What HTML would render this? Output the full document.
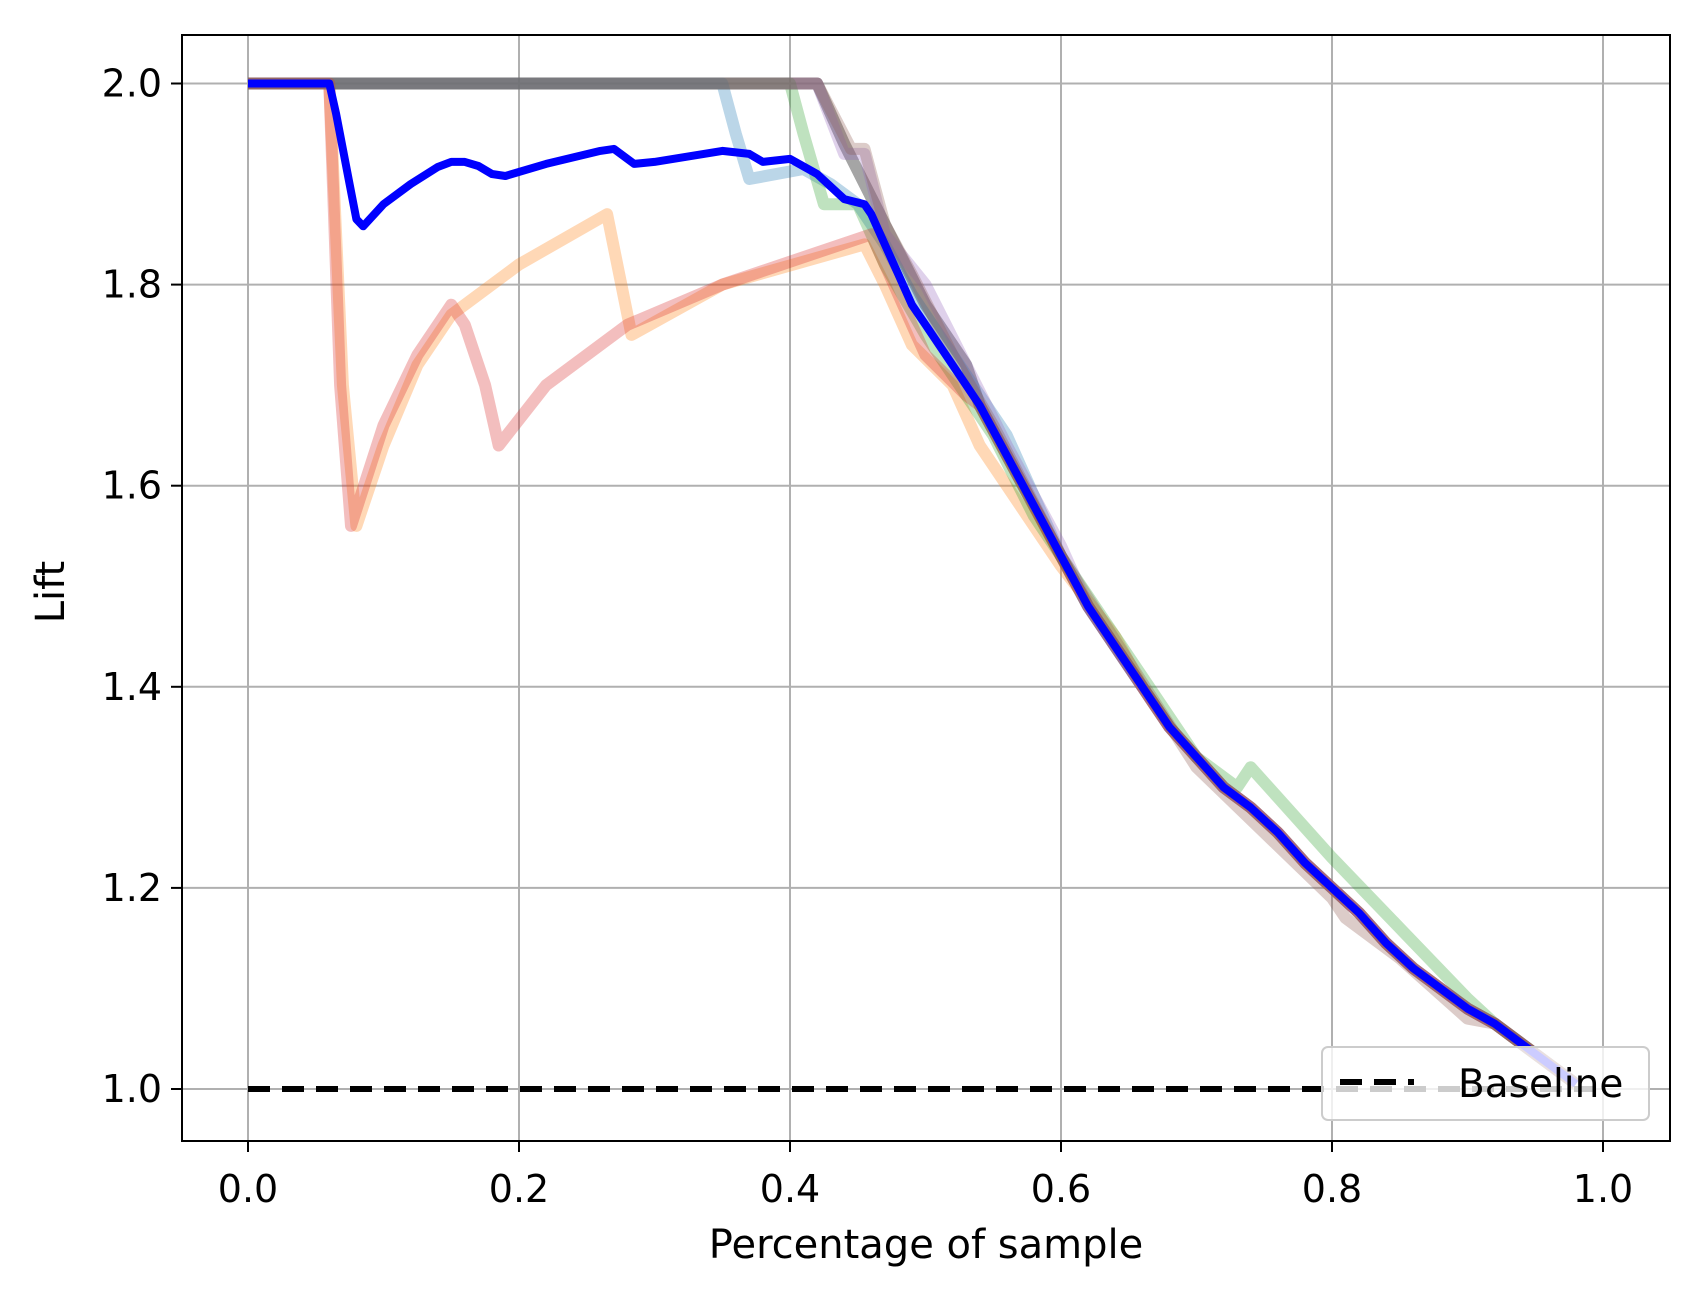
<!DOCTYPE html>
<html><head><meta charset="utf-8"><style>
html,body{margin:0;padding:0;background:#fff}
svg{display:block;font-family:"DejaVu Sans","Liberation Sans",sans-serif}
</style></head><body>
<svg id="chart" width="1703" height="1298" viewBox="0 0 1703 1298"></svg>
<script>
const xTicks=[0,0.2,0.4,0.6,0.8,1.0];
const yTicks=[1.0,1.2,1.4,1.6,1.8,2.0];
const tail=[[0.5,1.76],[0.52,1.72],[0.54,1.68],[0.56,1.63],[0.58,1.58],[0.6,1.53],[0.62,1.48],[0.64,1.44],[0.66,1.4],[0.68,1.36],[0.7,1.33],[0.72,1.3],[0.74,1.28],[0.76,1.255],[0.78,1.225],[0.8,1.2],[0.82,1.175],[0.84,1.145],[0.86,1.12],[0.88,1.1],[0.9,1.08],[0.92,1.065],[0.94,1.045],[0.96,1.025],[0.98,1.005]];
const seriesBlue=[[0,2],[0.35,2],[0.36,1.95],[0.37,1.905],[0.41,1.915],[0.43,1.9],[0.45,1.88],[0.47,1.84],[0.49,1.79],[0.5,1.77],[0.52,1.73],[0.54,1.69],[0.56,1.65],[0.58,1.59]];
const seriesOrange=[[0,2],[0.06,2],[0.07,1.7],[0.08,1.56],[0.1,1.64],[0.125,1.72],[0.15,1.77],[0.2,1.82],[0.265,1.87],[0.283,1.75],[0.35,1.8],[0.455,1.84],[0.47,1.8],[0.49,1.74],[0.52,1.7],[0.54,1.64],[0.6,1.52],[0.64,1.45]];
const seriesGreen=[[0,2],[0.4,2],[0.41,1.95],[0.425,1.88],[0.45,1.88],[0.47,1.82],[0.5,1.75],[0.55,1.65],[0.58,1.57],[0.6,1.53],[0.7,1.33],[0.73,1.3],[0.74,1.32],[0.76,1.29],[0.8,1.23],[0.85,1.16],[0.9,1.09]];
const seriesRed=[[0,2],[0.06,2],[0.068,1.7],[0.076,1.56],[0.1,1.66],[0.125,1.73],[0.15,1.78],[0.16,1.76],[0.175,1.7],[0.185,1.64],[0.22,1.7],[0.28,1.76],[0.35,1.8],[0.46,1.85],[0.48,1.79],[0.5,1.73],[0.53,1.69]];
const seriesPurple=[[0,2],[0.42,2],[0.44,1.93],[0.455,1.93],[0.47,1.85],[0.5,1.8],[0.53,1.72],[0.56,1.64],[0.6,1.54]];
const seriesBrown=[[0,2],[0.42,2],[0.445,1.935],[0.455,1.935],[0.47,1.86],[0.49,1.81],[0.52,1.73],[0.55,1.66],[0.6,1.53],[0.7,1.32],[0.8,1.19],[0.81,1.17],[0.85,1.13],[0.9,1.07]];
const seriesGray=[[0,2],[0.42,2],[0.44,1.94],[0.47,1.86],[0.5,1.78],[0.53,1.72]];
const seriesMain=[[0,2],[0.06,2],[0.065,1.97],[0.075,1.9],[0.08,1.865],[0.085,1.858],[0.1,1.88],[0.12,1.9],[0.14,1.917],[0.15,1.922],[0.16,1.922],[0.17,1.918],[0.18,1.91],[0.19,1.908],[0.22,1.92],[0.26,1.933],[0.27,1.935],[0.285,1.92],[0.3,1.922],[0.35,1.933],[0.37,1.93],[0.38,1.922],[0.4,1.925],[0.42,1.91],[0.44,1.885],[0.455,1.88],[0.46,1.87],[0.47,1.84],[0.48,1.81],[0.49,1.78],[0.5,1.76]];
const baseline=[[0,1],[1,1]];

const X=v=>248+v*1355;
const Y=v=>1089-(v-1)*1005.5;
const svg=document.getElementById('chart');
const NS='http://www.w3.org/2000/svg';
function mk(tag,attrs,parent){const e=document.createElementNS(NS,tag);for(const k in attrs)e.setAttribute(k,attrs[k]);(parent||svg).appendChild(e);return e;}

xTicks.forEach(t=>{const l=mk('line',{x1:X(t),x2:X(t),y1:35,y2:1141,stroke:'#b0b0b0','stroke-width':2});

});
yTicks.forEach(t=>{const l=mk('line',{x1:182,x2:1670,y1:Y(t),y2:Y(t),stroke:'#b0b0b0','stroke-width':2});

});

function path(pts,color,w,op,name,dash){
  const d=pts.map((p,i)=>(i?'L':'M')+X(p[0]).toFixed(1)+' '+Y(p[1]).toFixed(1)).join(' ');
  const a={d:d,fill:'none',stroke:color,'stroke-width':w,'stroke-opacity':op,'stroke-linejoin':'round'};
  if(dash)a['stroke-dasharray']=dash;
  const p=mk('path',a);
  
  
}
function full(s){const last=s[s.length-1][0];return s.concat(tail.filter(p=>p[0]>last));}
path(full(seriesGray),'#7f7f7f',12,0.7,'gray-series');
path(full(seriesBlue),'#1f77b4',12,0.3,'light-blue-series');
path(full(seriesOrange),'#ff7f0e',12,0.3,'orange-series');
path(full(seriesGreen),'#2ca02c',12,0.3,'green-series');
path(full(seriesRed),'#d62728',12,0.3,'red-series');
path(full(seriesPurple),'#9467bd',12,0.3,'purple-series');
path(full(seriesBrown),'#8c564b',12,0.3,'brown-series');
path(baseline,'#000',6,1,'baseline-line','22 12');
path(full(seriesMain),'#0000ff',8,1,'main-lift-curve');

const sp=mk('rect',{x:182,y:35,width:1488,height:1106,fill:'none',stroke:'#000','stroke-width':2});



xTicks.forEach(t=>{mk('line',{x1:X(t),x2:X(t),y1:1141,y2:1152,stroke:'#000','stroke-width':2});
const tx=mk('text',{x:X(t),y:1202,'font-size':38,'text-anchor':'middle'});tx.textContent=t.toFixed(1);

});
yTicks.forEach(t=>{mk('line',{x1:171,x2:182,y1:Y(t),y2:Y(t),stroke:'#000','stroke-width':2});
const tx=mk('text',{x:162,y:Y(t)+13,'font-size':38,'text-anchor':'end'});tx.textContent=t.toFixed(1);

});

const xl=mk('text',{x:926,y:1258,'font-size':40,'text-anchor':'middle'});xl.textContent='Percentage of sample';


const yl=mk('text',{x:0,y:0,'font-size':40,'text-anchor':'middle',transform:'translate(64 592) rotate(-90)'});yl.textContent='Lift';



const lg=mk('g',{});


mk('rect',{x:1322,y:1047,width:327,height:73,rx:6,fill:'#fff','fill-opacity':0.8,stroke:'#ccc','stroke-width':2},lg);
mk('line',{x1:1340,x2:1414,y1:1082,y2:1082,stroke:'#000','stroke-width':6,'stroke-dasharray':'22 12'},lg);
const lt=mk('text',{x:1458,y:1097,'font-size':39},lg);lt.textContent='Baseline';


</script>
</body></html>
